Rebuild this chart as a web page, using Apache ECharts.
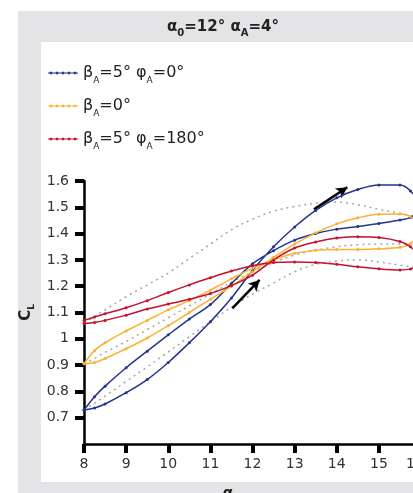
<!DOCTYPE html>
<html><head><meta charset="utf-8">
<script src="https://cdn.jsdelivr.net/npm/echarts@6/dist/echarts.min.js"></script>
<style>html,body{margin:0;padding:0;background:#fff}#c{width:413px;height:493px}</style>
</head><body><div id="c"></div>
<script>
// angle of attack grid (deg)
const alpha = [8, 8.25, 8.5, 9, 9.5, 10, 10.5, 11, 11.5, 12, 12.5, 13, 13.5, 14, 14.5, 15, 15.5, 15.75, 16];
// upstroke (alpha increasing) and downstroke (alpha decreasing), listed in ascending alpha
const blueUp     = [0.729,0.737,0.752,0.795,0.845,0.910,0.985,1.065,1.155,1.260,1.350,1.425,1.488,1.536,1.568,1.585,1.585,1.562,1.500];
const blueDown   = [0.729,0.780,0.820,0.890,0.953,1.015,1.075,1.130,1.210,1.285,1.335,1.375,1.400,1.417,1.427,1.438,1.452,1.462,1.500];
const orangeUp   = [0.905,0.910,0.925,0.962,1.003,1.050,1.100,1.150,1.200,1.255,1.310,1.360,1.403,1.437,1.460,1.474,1.475,1.465,1.420];
const orangeDown = [0.905,0.955,0.985,1.030,1.070,1.110,1.145,1.185,1.228,1.268,1.300,1.325,1.337,1.340,1.340,1.342,1.348,1.362,1.420];
const redUp      = [1.058,1.062,1.070,1.090,1.113,1.132,1.150,1.172,1.202,1.242,1.300,1.345,1.368,1.383,1.388,1.385,1.370,1.350,1.300];
const redDown    = [1.070,1.083,1.095,1.118,1.145,1.176,1.205,1.232,1.258,1.278,1.290,1.292,1.290,1.283,1.274,1.266,1.262,1.265,1.300];
// gray dotted reference curves
const gray1 = [1.060,1.085,1.110,1.160,1.205,1.250,1.305,1.360,1.415,1.455,1.485,1.503,1.515,1.520,1.510,1.492,1.477,1.466,1.455];
const gray2 = [0.730,0.755,0.782,0.838,0.893,0.950,1.008,1.065,1.120,1.170,1.212,1.255,1.283,1.296,1.300,1.292,1.280,1.274,1.270];
const gray3 = [0.905,0.925,0.948,0.990,1.035,1.080,1.125,1.170,1.215,1.255,1.290,1.318,1.337,1.350,1.358,1.360,1.360,1.360,1.360];
// arrows [alphaStart, clStart, alphaEnd, clEnd]
const arrows = [[13.46,1.492,14.25,1.576],[11.52,1.116,12.17,1.224]];
const xTicks = {min: 8, max: 16, interval: 1};
const yTicks = {min: 0.6, max: 1.6, interval: 0.1};
const names = ['βA=5° φA=0°', 'βA=0°', 'βA=5° φA=180°'];
const legendRich = {
  'βA=5° φA=0°': '{m|β}{s|A}{m|=5° φ}{s|A}{m|=0°}',
  'βA=0°': '{m|β}{s|A}{m|=0°}',
  'βA=5° φA=180°': '{m|β}{s|A}{m|=5° φ}{s|A}{m|=180°}'
};

function loop(up, down) {
  const pts = alpha.map((a, i) => [a, up[i]]);
  for (let i = alpha.length - 2; i >= 0; i--) pts.push([alpha[i], down[i]]);
  return pts;
}
function line(vals) { return alpha.map((a, i) => [a, vals[i]]); }

const FONT = 'DejaVu Sans';
const colors = ['#24348f', '#f9b234', '#c8102e'];
const chart = echarts.init(document.getElementById('c'), null, {renderer: 'canvas'});

function colored(name, data, color) {
  return {
    name, type: 'line', data, smooth: 0.35, symbol: 'circle', symbolSize: 3,
    showSymbol: true, color, lineStyle: {width: 1.5, color}, itemStyle: {color},
    z: 5, silent: true, animation: false
  };
}
function grayS(data) {
  return {
    type: 'line', data, smooth: 0.35, showSymbol: false, silent: true, animation: false,
    lineStyle: {width: 1.5, color: '#a5a5a5', type: [2, 4]}, z: 3
  };
}

const option = {
  animation: false,
  backgroundColor: '#ffffff',
  graphic: [
    {type: 'rect', z: -20, silent: true, shape: {x: 18, y: 11, width: 420, height: 500}, style: {fill: '#e4e4e6'}},
    {type: 'rect', z: -19, silent: true, shape: {x: 41, y: 42, width: 400, height: 440}, style: {fill: '#ffffff'}},
    {type: 'text', z: 10, silent: true, x: 228, y: 487, style: {text: 'α', font: 'bold 15px "DejaVu Sans"', fill: '#222', align: 'center', verticalAlign: 'top'}}
  ],
  title: {
    text: '{m|α}{s|0}{m|=12° α}{s|A}{m|=4°}',
    left: 167, top: 16, padding: 0,
    textStyle: {
      rich: {
        m: {fontFamily: FONT, fontWeight: 'bold', fontSize: 15, lineHeight: 22, color: '#222'},
        s: {fontFamily: FONT, fontWeight: 'bold', fontSize: 10, lineHeight: 8, verticalAlign: 'bottom', color: '#222'}
      }
    }
  },
  legend: {
    data: names, orient: 'vertical', left: 48, top: 65, itemGap: 13,
    itemWidth: 30, itemHeight: 6, padding: 0,
    icon: 'path://M0,2.4H30V3.6H0Z M1.8,1.8h2.4v2.4h-2.4Z M7.8,1.8h2.4v2.4h-2.4Z M13.8,1.8h2.4v2.4h-2.4Z M19.8,1.8h2.4v2.4h-2.4Z M25.8,1.8h2.4v2.4h-2.4Z',
    formatter: n => legendRich[n],
    textStyle: {
      rich: {
        m: {fontFamily: FONT, fontSize: 16, lineHeight: 24, color: '#222'},
        s: {fontFamily: FONT, fontSize: 9, lineHeight: 5, verticalAlign: 'bottom', color: '#222'}
      }
    },
    selectedMode: false
  },
  grid: {left: 84, width: 337, top: 181, height: 263, containLabel: false, outerBoundsMode: 'none'},
  xAxis: {
    type: 'value', min: xTicks.min, max: xTicks.max, interval: xTicks.interval,
    axisLine: {show: true, lineStyle: {color: '#000', width: 2.5}},
    axisTick: {show: true, length: 9, lineStyle: {color: '#000', width: 4}},
    axisLabel: {margin: 13, fontFamily: FONT, fontSize: 14, color: '#333', showMaxLabel: true, hideOverlap: false,
      formatter: v => v === xTicks.max ? '{e|' + v + '}' : String(v),
      rich: {e: {fontFamily: FONT, fontSize: 14, color: '#333', padding: [0, 12, 0, 0]}}},
    splitLine: {show: false}
  },
  yAxis: {
    type: 'value', min: yTicks.min, max: yTicks.max, interval: yTicks.interval,
    name: '{m|C}{s|L}', nameLocation: 'middle', nameRotate: 90, nameGap: 47,
    nameTextStyle: {
      rich: {
        m: {fontFamily: FONT, fontWeight: 'bold', fontSize: 15, lineHeight: 20, color: '#222'},
        s: {fontFamily: FONT, fontWeight: 'bold', fontSize: 9, lineHeight: 6, verticalAlign: 'bottom', color: '#222'}
      }
    },
    axisLine: {show: true, lineStyle: {color: '#000', width: 2.5}},
    axisTick: {show: true, length: 9, lineStyle: {color: '#000', width: 4}},
    axisLabel: {margin: 15, fontFamily: FONT, fontSize: 14, color: '#333', showMinLabel: false,
      formatter: v => String(Math.round(v * 10) / 10)},
    splitLine: {show: false}
  },
  series: [
    grayS(line(gray1)), grayS(line(gray2)), grayS(line(gray3)),
    colored(names[0], loop(blueUp, blueDown), colors[0]),
    colored(names[1], loop(orangeUp, orangeDown), colors[1]),
    colored(names[2], loop(redUp, redDown), colors[2]),
    {
      type: 'line', data: [], silent: true, z: 8,
      markLine: {
        silent: true, symbol: ['none', 'arrow'], symbolSize: [9, 11], animation: false,
        label: {show: false}, lineStyle: {color: '#000', width: 2.5, type: 'solid'},
        data: arrows.map(a => [{coord: [a[0], a[1]]}, {coord: [a[2], a[3]]}])
      }
    }
  ]
};
chart.setOption(option);
</script></body></html>
